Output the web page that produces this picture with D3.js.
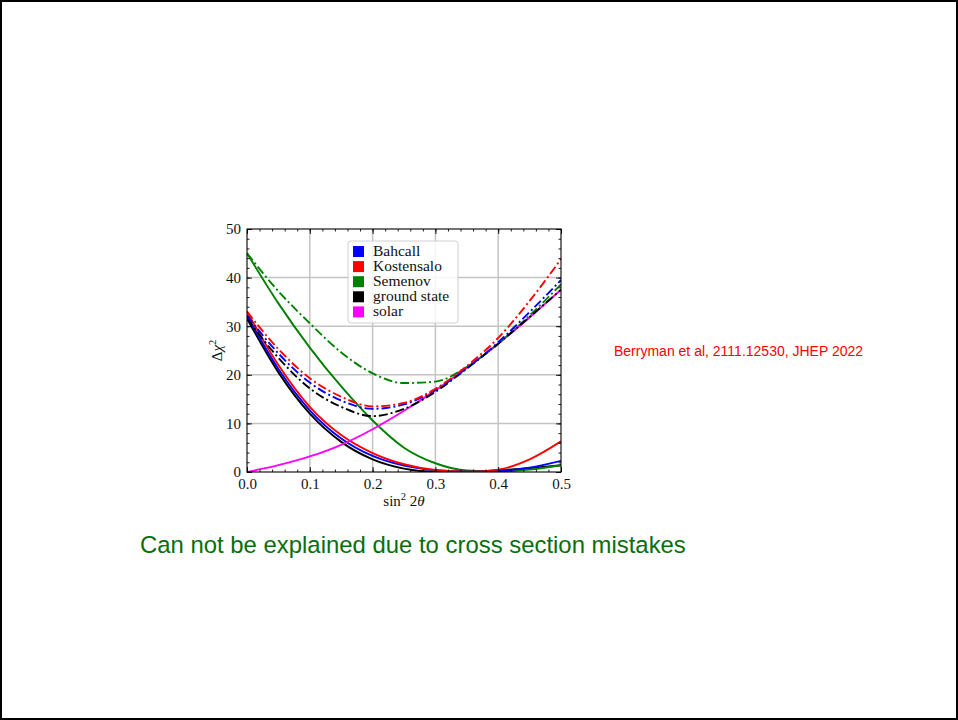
<!DOCTYPE html>
<html>
<head>
<meta charset="utf-8">
<script src="https://cdn.jsdelivr.net/npm/d3@7"></script>
<style>
  body { margin: 0; background: #fff; }
  svg { display: block; }
</style>
</head>
<body>
<div id="chart"></div>
<script>
// sin^2 2theta sample points
const sinVals = [0, 0.05, 0.1, 0.15, 0.2, 0.25, 0.3, 0.35, 0.4, 0.45, 0.5];

// solid curves
const bahcallSolid    = [32.2, 21.2, 12.7, 6.9, 3.3, 1.3, 0.35, 0.05, 0.2, 0.9, 2.3];
const kostensaloSolid = [33.0, 22.0, 13.4, 7.6, 3.9, 1.6, 0.4, 0.05, 0.5, 2.6, 6.3];
const semenovSolid    = [45.0, 34.7, 25.6, 17.6, 10.6, 5.0, 1.8, 0.3, 0.1, 0.5, 1.4];
const groundSolid     = [31.6, 20.5, 12.0, 6.2, 2.6, 0.7, 0.05, 0.05, 0.35, 0.8, 1.4];

// dash-dot curves
const bahcallDash    = [32.2, 24.4, 18.4, 14.7, 13.0, 13.9, 16.9, 21.4, 26.7, 32.9, 39.5];
const kostensaloDash = [33.0, 25.3, 19.3, 15.5, 13.5, 14.2, 17.1, 21.8, 27.6, 35.2, 43.8];
const semenovDash    = [45.0, 37.2, 30.6, 24.6, 20.3, 18.3, 18.6, 21.6, 26.4, 32.2, 38.6];
const groundDash     = [31.6, 23.5, 17.2, 13.4, 11.5, 13.0, 16.5, 21.3, 26.4, 31.9, 37.5];

// solar
const solarCurve = [0, 1.4, 3.2, 5.6, 8.8, 12.6, 16.8, 21.4, 26.4, 31.8, 37.5];

const legendNames  = ["Bahcall", "Kostensalo", "Semenov", "ground state", "solar"];
const legendColors = ["#0000ff", "#ff0000", "#008000", "#000000", "#ff00ff"];

const xTicks = [0, 0.1, 0.2, 0.3, 0.4, 0.5];
const yTicks = [0, 10, 20, 30, 40, 50];

const W = 958, H = 720;
const svg = d3.select("#chart").append("svg")
    .attr("width", W)
    .attr("height", H);

// slide frame
svg.append("rect")
    .attr("x", 1).attr("y", 1)
    .attr("width", W - 2).attr("height", H - 2)
    .attr("fill", "#fff")
    .attr("stroke", "#000")
    .attr("stroke-width", 2);

const pLeft = 247, pRight = 561, pTop = 229, pBottom = 472;
const x = d3.scaleLinear().domain([0, 0.5]).range([pLeft, pRight]);
const y = d3.scaleLinear().domain([0, 50]).range([pBottom, pTop]);

const plot = svg.append("g");

// grid
plot.selectAll(".gx")
    .data(xTicks.slice(1, -1))
    .enter().append("line")
    .attr("x1", d => x(d)).attr("x2", d => x(d))
    .attr("y1", pTop).attr("y2", pBottom)
    .attr("stroke", "#c4c4c4")
    .attr("stroke-width", 1.5);
plot.selectAll(".gy")
    .data(yTicks.slice(1, -1))
    .enter().append("line")
    .attr("x1", pLeft).attr("x2", pRight)
    .attr("y1", d => y(d)).attr("y2", d => y(d))
    .attr("stroke", "#c4c4c4")
    .attr("stroke-width", 1.5);

// clip
svg.append("clipPath").attr("id", "clip")
    .append("rect")
    .attr("x", pLeft).attr("y", pTop)
    .attr("width", pRight - pLeft).attr("height", pBottom - pTop);

const line = d3.line()
    .x((d, i) => x(sinVals[i]))
    .y(d => y(d))
    .curve(d3.curveMonotoneX);

const curves = plot.append("g").attr("clip-path", "url(#clip)");

function drawCurve(data, color, dashed) {
    curves.append("path")
        .datum(data)
        .attr("d", line)
        .attr("fill", "none")
        .attr("stroke", color)
        .attr("stroke-width", 1.9)
        .attr("stroke-dasharray", dashed ? "9,3,2,3" : null);
}

drawCurve(groundSolid, "#000000", false);
drawCurve(semenovSolid, "#008000", false);
drawCurve(bahcallSolid, "#0000ff", false);
drawCurve(kostensaloSolid, "#ff0000", false);
drawCurve(solarCurve, "#ff00ff", false);
drawCurve(semenovDash, "#008000", true);
drawCurve(groundDash, "#000000", true);
drawCurve(bahcallDash, "#0000ff", true);
drawCurve(kostensaloDash, "#ff0000", true);

// axes (ticks pointing inward)
const tickFont = "'Liberation Serif', 'Times New Roman', serif";
const minorX = d3.range(0, 0.5001, 0.02);
const minorY = d3.range(0, 50.001, 2);

function styleAxis(g) {
    g.select(".domain").remove();
    g.selectAll("line").attr("stroke", "#000").attr("stroke-width", 0.9);
    g.selectAll("text")
        .attr("font-family", tickFont)
        .attr("font-size", 15)
        .attr("fill", "#111");
}

svg.append("g")
    .attr("transform", `translate(0,${pBottom})`)
    .call(d3.axisBottom(x).tickValues(xTicks).tickSize(-5).tickPadding(6.5).tickFormat(d3.format(".1f")))
    .call(styleAxis);
svg.append("g")
    .attr("transform", `translate(0,${pBottom})`)
    .call(d3.axisBottom(x).tickValues(minorX).tickSize(-2.5).tickFormat(""))
    .call(styleAxis);
svg.append("g")
    .attr("transform", `translate(0,${pTop})`)
    .call(d3.axisTop(x).tickValues(xTicks).tickSize(-5).tickFormat(""))
    .call(styleAxis);
svg.append("g")
    .attr("transform", `translate(0,${pTop})`)
    .call(d3.axisTop(x).tickValues(minorX).tickSize(-2.5).tickFormat(""))
    .call(styleAxis);

svg.append("g")
    .attr("transform", `translate(${pLeft},0)`)
    .call(d3.axisLeft(y).tickValues(yTicks).tickSize(-5).tickPadding(6))
    .call(styleAxis);
svg.append("g")
    .attr("transform", `translate(${pLeft},0)`)
    .call(d3.axisLeft(y).tickValues(minorY).tickSize(-2.5).tickFormat(""))
    .call(styleAxis);
svg.append("g")
    .attr("transform", `translate(${pRight},0)`)
    .call(d3.axisRight(y).tickValues(yTicks).tickSize(-5).tickFormat(""))
    .call(styleAxis);
svg.append("g")
    .attr("transform", `translate(${pRight},0)`)
    .call(d3.axisRight(y).tickValues(minorY).tickSize(-2.5).tickFormat(""))
    .call(styleAxis);

// frame
svg.append("rect")
    .attr("x", pLeft).attr("y", pTop)
    .attr("width", pRight - pLeft).attr("height", pBottom - pTop)
    .attr("fill", "none")
    .attr("stroke", "#000")
    .attr("stroke-width", 1.1);

// axis labels
const xl = svg.append("text")
    .attr("x", (pLeft + pRight) / 2)
    .attr("y", 506)
    .attr("text-anchor", "middle")
    .attr("font-family", tickFont)
    .attr("font-size", 15)
    .attr("fill", "#111");
xl.append("tspan").text("sin");
xl.append("tspan").attr("font-size", 10.5).attr("dy", -6).text("2");
xl.append("tspan").attr("dy", 6).text(" 2");
xl.append("tspan").attr("font-style", "italic").text("θ");

const yl = svg.append("text")
    .attr("transform", `translate(222,${(pTop + pBottom) / 2}) rotate(-90)`)
    .attr("text-anchor", "middle")
    .attr("font-family", tickFont)
    .attr("font-size", 15)
    .attr("fill", "#111");
yl.append("tspan").text("Δ");
yl.append("tspan").attr("font-style", "italic").text("χ");
yl.append("tspan").attr("font-size", 10.5).attr("dy", -6).text("2");

// legend
const legend = svg.append("g");
legend.append("rect")
    .attr("x", 348).attr("y", 241)
    .attr("width", 110).attr("height", 82)
    .attr("rx", 3)
    .attr("fill", "#fff")
    .attr("fill-opacity", 0.85)
    .attr("stroke", "#d0d0d0")
    .attr("stroke-width", 1);
legend.selectAll("rect.sw")
    .data(legendNames)
    .enter().append("rect")
    .attr("class", "sw")
    .attr("x", 353)
    .attr("y", (d, i) => 246 + i * 15.1)
    .attr("width", 11).attr("height", 11)
    .attr("fill", (d, i) => legendColors[i]);
legend.selectAll("text")
    .data(legendNames)
    .enter().append("text")
    .attr("x", 373)
    .attr("y", (d, i) => 256 + i * 15.1)
    .attr("font-family", tickFont)
    .attr("font-size", 15.5)
    .attr("fill", "#111")
    .text(d => d);

// annotations
svg.append("text")
    .attr("x", 614).attr("y", 356)
    .attr("font-family", "'Liberation Sans', Arial, sans-serif")
    .attr("font-size", 14)
    .attr("fill", "#ff0000")
    .text("Berryman et al, 2111.12530, JHEP 2022");

svg.append("text")
    .attr("x", 140).attr("y", 553)
    .attr("font-family", "'Liberation Sans', Arial, sans-serif")
    .attr("font-size", 23.9)
    .attr("fill", "#0a6e0a")
    .text("Can not be explained due to cross section mistakes");
</script>
</body>
</html>
